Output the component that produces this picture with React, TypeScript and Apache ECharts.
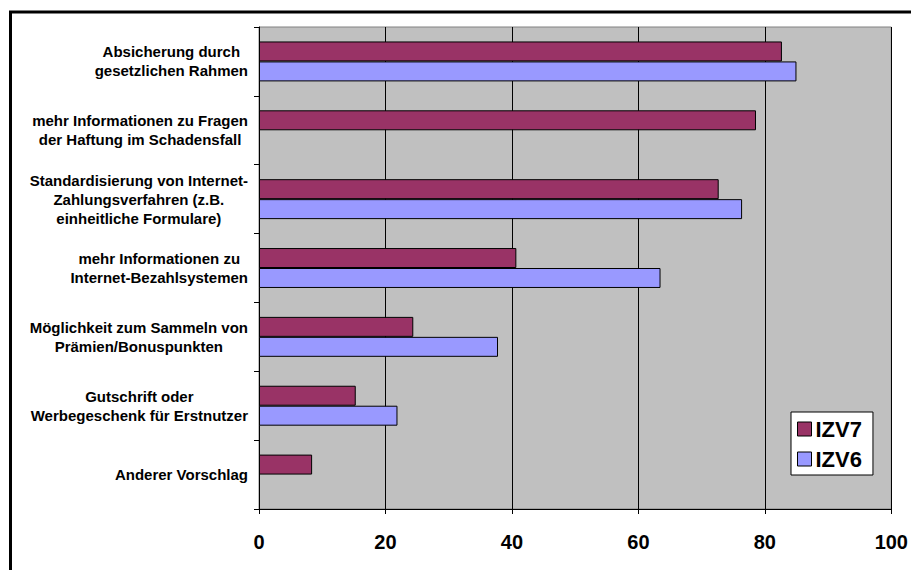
import React, { useEffect, useRef } from "react";
import * as echarts from "echarts";

const categories = [
  "Absicherung durch\ngesetzlichen Rahmen",
  "mehr Informationen zu Fragen\nder Haftung im Schadensfall",
  "Standardisierung von Internet-\nZahlungsverfahren (z.B.\neinheitliche Formulare)",
  "mehr Informationen zu\nInternet-Bezahlsystemen",
  "Möglichkeit zum Sammeln von\nPrämien/Bonuspunkten",
  "Gutschrift oder\nWerbegeschenk für Erstnutzer",
  "Anderer Vorschlag",
];
const seriesNames = ["IZV7", "IZV6"];
const izv7 = [82.7, 78.6, 72.7, 40.7, 24.4, 15.3, 8.4];
const izv6: (number | null)[] = [85.0, null, 76.4, 63.5, 37.8, 21.9, null];
const xTicks = { min: 0, max: 100, interval: 20 };

const FONT = '"Liberation Sans", Arial, sans-serif';

export default function App() {
  const ref = useRef<HTMLDivElement>(null);
  useEffect(() => {
    if (!ref.current) return;
    const chart = echarts.init(ref.current, null, { renderer: "svg" });
    const barStyle = (color: string) => ({
      color,
      borderColor: "#000",
      borderWidth: 1,
    });
    chart.setOption({
      animation: false,
      backgroundColor: "#fff",
      textStyle: { fontFamily: FONT },
      grid: {
        left: 259,
        right: 18,
        top: 27,
        bottom: 61,
        show: true,
        backgroundColor: "#C0C0C0",
        borderColor: "#808080",
        borderWidth: 1,
      },
      legend: {
        orient: "vertical",
        left: 791,
        top: 412,
        padding: [6, 11, 5, 6],
        itemGap: 8,
        itemWidth: 14,
        itemHeight: 14,
        icon: "rect",
        backgroundColor: "#fff",
        borderColor: "#000",
        borderWidth: 1,
        borderRadius: 0,
        itemStyle: { borderColor: "#000", borderWidth: 1 },
        textStyle: {
          fontSize: 22,
          fontWeight: "bold",
          fontFamily: FONT,
          color: "#000",
          padding: [0, 0, 0, -1],
        },
        data: seriesNames,
      },
      xAxis: {
        type: "value",
        min: xTicks.min,
        max: xTicks.max,
        interval: xTicks.interval,
        axisLine: { show: true, lineStyle: { color: "#000", width: 1 } },
        axisTick: { show: true, length: 5, lineStyle: { color: "#000" } },
        splitLine: { show: true, lineStyle: { color: "#000", width: 1 } },
        axisLabel: {
          fontSize: 20,
          fontWeight: "bold",
          fontFamily: FONT,
          color: "#000",
          margin: 23,
        },
      },
      yAxis: {
        type: "category",
        data: categories,
        inverse: true,
        axisLine: { show: true, lineStyle: { color: "#000", width: 1 } },
        axisTick: { show: true, length: 5, lineStyle: { color: "#000" } },
        splitLine: { show: false },
        axisLabel: {
          margin: 11,
          align: "right",
          formatter: (v: string) =>
            v
              .split("\n")
              .map((l) => `{c|${l}}`)
              .join("\n"),
          rich: {
            c: {
              align: "center",
              fontSize: 15,
              fontWeight: "bold",
              fontFamily: FONT,
              color: "#000",
              lineHeight: 19,
            },
          },
        },
      },
      series: [
        {
          name: seriesNames[0],
          type: "bar",
          data: izv7,
          barGap: "0%",
          barCategoryGap: "42%",
          itemStyle: barStyle("#993366"),
        },
        {
          name: seriesNames[1],
          type: "bar",
          data: izv6,
          barGap: "0%",
          barCategoryGap: "42%",
          itemStyle: barStyle("#9999FF"),
        },
      ],
      graphic: [
        {
          type: "rect",
          shape: { x: 10.5, y: 12, width: 1000, height: 1000 },
          style: { fill: "none", stroke: "#000", lineWidth: 3 },
          silent: true,
          z: 100,
        },
      ],
    });
    return () => chart.dispose();
  }, []);
  return (
    <div
      ref={ref}
      style={{ position: "fixed", left: 0, top: 0, width: 911, height: 570 }}
    />
  );
}
